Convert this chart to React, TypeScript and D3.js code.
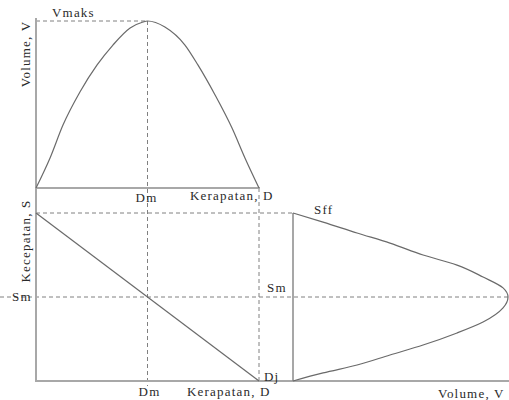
import React, { useEffect, useRef } from 'react';
import * as d3 from 'd3';

// Volume - density curve (top panel)
const flowDensity = [0, 6.3, 12.1, 19.7, 27.4, 34.5, 42.2, 48, 50, 57.8, 66.8, 72.6, 80.3, 87.9, 93.7, 100];
const flowVolume = [0, 18, 37.7, 57.5, 73.7, 85.6, 95.8, 99.4, 100, 96.4, 85.6, 73.7, 55.7, 35.9, 18, 0];

// Speed - density line (bottom left)
const speedDensityD = [0, 100];
const speedDensityS = [100, 0];

// Speed - volume curve (bottom right)
const speedVolumeV = [0, 14, 29.8, 45.1, 60.5, 76.3, 88.4, 97.7, 100, 97.7, 88.4, 76.3, 60.5, 45.1, 29.8, 14, 0];
const speedVolumeS = [100, 94.6, 88.1, 82.1, 75, 69, 61.9, 55.4, 50, 43.5, 35.1, 28.6, 21.4, 15.5, 9.5, 4.8, 0];

// Key values
const Dm = 50;
const Dj = 100;
const Vmaks = 100;
const Sff = 100;
const Sm = 50;

const W = 509;
const H = 400;

const App = () => {
  const svgRef = useRef<SVGSVGElement>(null);

  useEffect(() => {
    const svg = d3.select(svgRef.current);
    svg.selectAll('*').remove();

    const xD = d3.scaleLinear().domain([0, Dj]).range([36, 259]);
    const yV = d3.scaleLinear().domain([0, Vmaks]).range([188, 21]);
    const yS = d3.scaleLinear().domain([0, Sff]).range([381, 213]);
    const xV = d3.scaleLinear().domain([0, Vmaks]).range([293, 508]);

    const axisColor = '#a8a8a8';
    const curveColor = '#6a6a6a';
    const dashColor = '#808080';
    const textColor = '#2a2a2a';

    const dash = (x1: number, y1: number, x2: number, y2: number) =>
      svg.append('line')
        .attr('x1', x1).attr('y1', y1).attr('x2', x2).attr('y2', y2)
        .attr('stroke', dashColor)
        .attr('stroke-width', 1)
        .attr('stroke-dasharray', '4,3');

    // dashed guides
    dash(xD(0), yV(Vmaks), xD(Dm), yV(Vmaks));
    dash(xD(Dm), yV(Vmaks), xD(Dm), 386);
    dash(xD(Dj), yV(0), xD(Dj), yS(0));
    dash(xD(0), yS(Sff), xV(0), yS(Sff));
    dash(0, yS(Sm), W, yS(Sm));

    // axes
    const solid = (x1: number, y1: number, x2: number, y2: number, w = 2, c = axisColor) =>
      svg.append('line')
        .attr('x1', x1).attr('y1', y1).attr('x2', x2).attr('y2', y2)
        .attr('stroke', c)
        .attr('stroke-width', w);

    solid(xD(0), 18, xD(0), yS(0) + 1);
    solid(xD(0), yV(0), xD(Dj) + 1, yV(0));
    solid(xD(0), yS(0), W, yS(0));
    solid(xV(0), yS(Sff), xV(0), yS(0), 1.5, '#8a8a8a');

    // curves
    const flowLine = d3.line<number>()
      .x((d) => xD(d))
      .y((d, i) => yV(flowVolume[i]))
      .curve(d3.curveMonotoneX);
    svg.append('path')
      .attr('d', flowLine(flowDensity))
      .attr('fill', 'none')
      .attr('stroke', curveColor)
      .attr('stroke-width', 1.2);

    const speedLine = d3.line<number>()
      .x((d) => xD(d))
      .y((d, i) => yS(speedDensityS[i]));
    svg.append('path')
      .attr('d', speedLine(speedDensityD))
      .attr('fill', 'none')
      .attr('stroke', curveColor)
      .attr('stroke-width', 1.2);

    const svLine = d3.line<number>()
      .x((d) => xV(d))
      .y((d, i) => yS(speedVolumeS[i]))
      .curve(d3.curveMonotoneY);
    svg.append('path')
      .attr('d', svLine(speedVolumeV))
      .attr('fill', 'none')
      .attr('stroke', curveColor)
      .attr('stroke-width', 1.2);

    // labels
    const label = (x: number, y: number, t: string, anchor = 'start', rotate = false) => {
      const el = svg.append('text')
        .style('font-family', "'Liberation Serif', 'Times New Roman', serif")
        .style('font-size', '13px')
        .style('letter-spacing', '1.2px')
        .attr('fill', textColor)
        .attr('text-anchor', anchor)
        .text(t);
      if (rotate) el.attr('transform', `translate(${x},${y}) rotate(-90)`);
      else el.attr('x', x).attr('y', y);
      return el;
    };

    label(52, 17, 'Vmaks');
    label(30, 54, 'Volume, V', 'middle', true);
    label(xD(Dm) - 1, 202, 'Dm', 'middle');
    label(190, 200, 'Kerapatan, D');

    label(30, 241, 'Kecepatan, S', 'middle', true);
    label(12, 301, 'Sm');
    label(xD(Dm) + 2, 396, 'Dm', 'middle');
    label(187, 396, 'Kerapatan, D');
    label(264, 381, 'Dj');

    label(314, 214, 'Sff');
    label(267, 292, 'Sm');
    label(438, 398, 'Volume, V');
  }, []);

  return (
    <svg
      ref={svgRef}
      width={W}
      height={H}
      style={{ position: 'absolute', left: 0, top: 0, background: '#fff' }}
    />
  );
};

export default App;
